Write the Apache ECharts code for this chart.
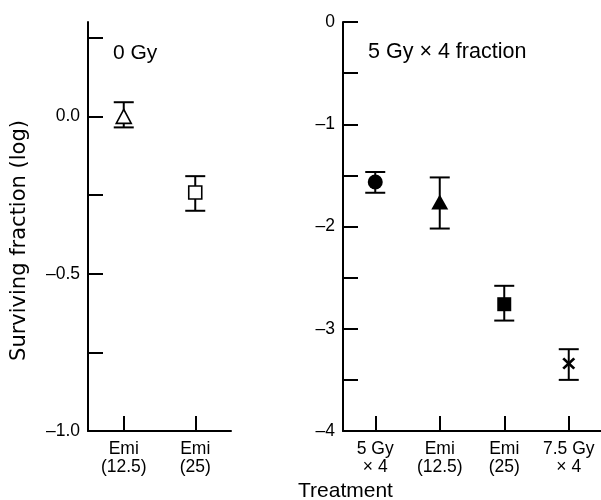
<!DOCTYPE html>
<html>
<head>
<meta charset="utf-8">
<style>
  html, body { margin: 0; padding: 0; background: #fff; }
  #chart { width: 601px; height: 500px; }
</style>
<script src="https://cdn.jsdelivr.net/npm/echarts@6/dist/echarts.min.js"></script>
</head>
<body>
<div id="chart"></div>
<script>
// data
const leftCats = ['Emi\n(12.5)', 'Emi\n(25)']
const leftMean = [0.0, -0.242]
const leftLow = [-0.035, -0.30]
const leftHigh = [0.045, -0.19]
const leftTicks = [-1, -0.75, -0.5, -0.25, 0, 0.25]
const leftLabels = [-1, -0.5, 0]

const rightCats = ['5 Gy\n× 4', 'Emi\n(12.5)', 'Emi\n(25)', '7.5 Gy\n× 4']
const rightMean = [-1.565, -1.76, -2.76, -3.34]
const rightLow = [-1.67, -2.02, -2.92, -3.5]
const rightHigh = [-1.467, -1.52, -2.58, -3.2]
const rightTicks = [-4, -3.5, -3, -2.5, -2, -1.5, -1, -0.5, 0]
const rightLabels = [-4, -3, -2, -1, 0]

const FONT = '"Liberation Sans", Arial, sans-serif'
const NAME_FONT = '"DejaVu Sans", sans-serif'
const CROSS = 'path://M0,1.5L1.5,0L5,3.5L8.5,0L10,1.5L6.5,5L10,8.5L8.5,10L5,6.5L1.5,10L0,8.5L3.5,5Z'

const dash = (s) => s.replace('-', '\u2013')

// 坐标轴公共样式
const axisLine = { show: true, onZero: false, lineStyle: { color: '#000', width: 2 } }
const tickStyle = { color: '#000', width: 2 }

const xAxisFor = (grid, cats) => ({
  type: 'category',
  gridIndex: grid,
  data: cats,
  boundaryGap: true,
  axisLine,
  axisTick: { show: true, inside: true, length: 15, alignWithLabel: true, lineStyle: tickStyle },
  axisLabel: { color: '#000', fontFamily: FONT, fontSize: 17.5, lineHeight: 18, margin: 9, interval: 0 },
  splitLine: { show: false }
})

const yAxisFor = (grid, min, max, ticks, labels, fmt) => ({
  type: 'value',
  gridIndex: grid,
  min,
  max,
  axisLine,
  axisTick: { show: true, inside: true, length: 15, customValues: ticks, lineStyle: tickStyle },
  axisLabel: {
    color: '#000', fontFamily: FONT, fontSize: 17.5, margin: 8,
    customValues: labels,
    formatter: fmt
  },
  splitLine: { show: false }
})

// 误差线
const errorSeries = (idx, low, high) => ({
  type: 'custom',
  xAxisIndex: idx,
  yAxisIndex: idx,
  z: 1,
  data: low.map((l, i) => [i, l, high[i]]),
  renderItem: (params, api) => {
    const lo = api.coord([api.value(0), api.value(1)])
    const hi = api.coord([api.value(0), api.value(2)])
    const w = 10
    const style = { stroke: '#000', lineWidth: 2 }
    return {
      type: 'group',
      children: [
        { type: 'line', shape: { x1: lo[0], y1: lo[1], x2: hi[0], y2: hi[1] }, style },
        { type: 'line', shape: { x1: lo[0] - w, y1: lo[1], x2: lo[0] + w, y2: lo[1] }, style },
        { type: 'line', shape: { x1: hi[0] - w, y1: hi[1], x2: hi[0] + w, y2: hi[1] }, style }
      ]
    }
  }
})

const leftSymbols = [
  { symbol: 'triangle', symbolSize: [15, 14] },
  { symbol: 'rect', symbolSize: [13, 13] }
]
const rightSymbols = [
  { symbol: 'circle', symbolSize: 15 },
  { symbol: 'triangle', symbolSize: [17, 15] },
  { symbol: 'rect', symbolSize: [14, 14] },
  { symbol: CROSS, symbolSize: [13, 12] }
]

const chart = echarts.init(document.getElementById('chart'), null, { renderer: 'canvas' })

chart.setOption({
  animation: false,
  backgroundColor: '#fff',
  grid: [
    { left: 88, top: 22, width: 143, height: 409 },
    { left: 343, top: 22, width: 258, height: 409 }
  ],
  xAxis: [xAxisFor(0, leftCats), xAxisFor(1, rightCats)],
  yAxis: [
    Object.assign(
      yAxisFor(0, -1, 0.3, leftTicks, leftLabels, (v) => dash(v.toFixed(1))),
      {
        name: 'Surviving fraction (log)',
        nameLocation: 'middle',
        nameRotate: 90,
        nameGap: 58,
        nameTextStyle: { color: '#000', fontFamily: NAME_FONT, fontSize: 21, padding: [0, 28, 0, 0] }
      }
    ),
    yAxisFor(1, -4, 0, rightTicks, rightLabels, (v) => dash(String(v)))
  ],
  graphic: [
    { type: 'text', left: 113, top: 43, style: { text: '0 Gy', font: '21px ' + FONT, fill: '#000' } },
    { type: 'text', left: 368, top: 41, style: { text: '5 Gy × 4 fraction', font: '21.5px ' + FONT, fill: '#000' } },
    { type: 'text', left: 298, top: 481, style: { text: 'Treatment', font: '21px ' + FONT, fill: '#000' } }
  ],
  series: [
    errorSeries(0, leftLow, leftHigh),
    {
      type: 'scatter',
      xAxisIndex: 0,
      yAxisIndex: 0,
      z: 3,
      data: leftMean.map((v, i) => Object.assign({ value: [i, v] }, leftSymbols[i])),
      itemStyle: { color: '#fff', borderColor: '#000', borderWidth: 1.6, opacity: 1 }
    },
    errorSeries(1, rightLow, rightHigh),
    {
      type: 'scatter',
      xAxisIndex: 1,
      yAxisIndex: 1,
      z: 3,
      data: rightMean.map((v, i) => Object.assign({ value: [i, v] }, rightSymbols[i])),
      itemStyle: { color: '#000', opacity: 1 }
    }
  ]
})
</script>
</body>
</html>
